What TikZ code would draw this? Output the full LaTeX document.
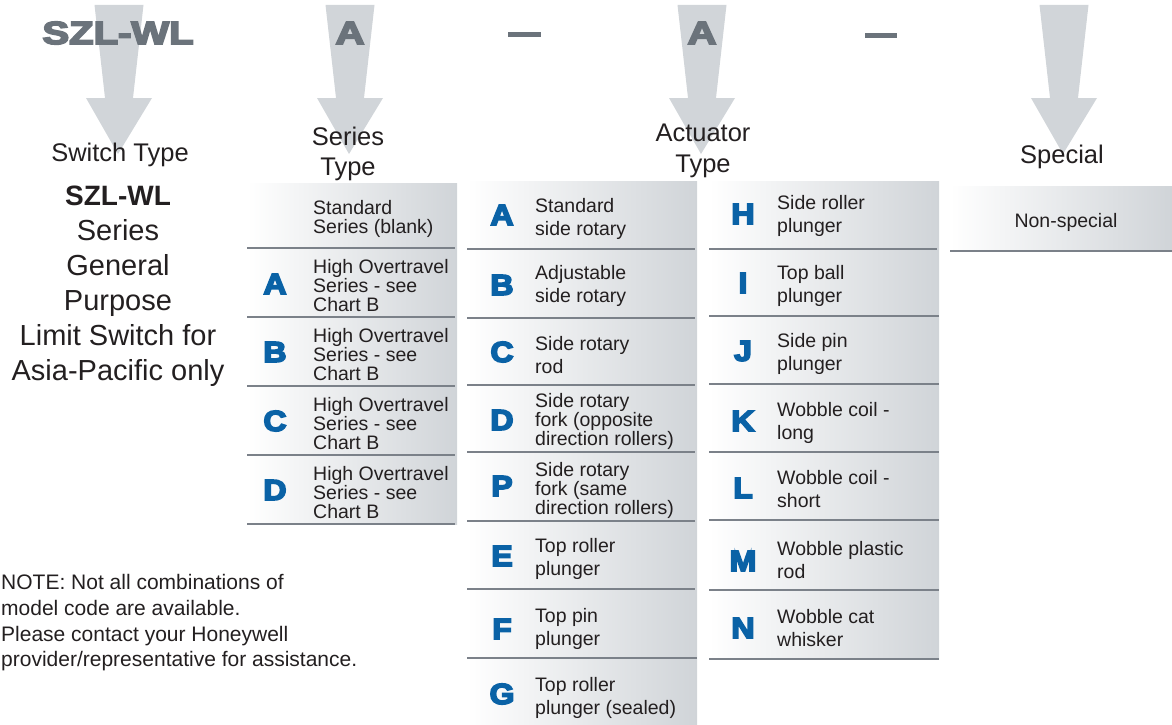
\documentclass[tikz,border=0pt]{standalone}
\usepackage{fontspec}
\setmainfont{Liberation Sans}
\newfontfamily\heavyfont{Liberation Sans Bold}
\usetikzlibrary{positioning}
\definecolor{arrowgrey}{HTML}{D1D5D9}
\definecolor{codegrey}{HTML}{6B737B}
\definecolor{codeblue}{HTML}{0A62A6}
\definecolor{rulegrey}{HTML}{7B8189}
\definecolor{shadegrey}{HTML}{D0D4D8}
\definecolor{inkblack}{HTML}{231F20}
% stroked glyphs for the black weight
\newcommand\heavy[1]{\special{pdf:literal direct 2 Tr 1.6 w}#1\special{pdf:literal direct 0 Tr}}
\tikzset{
  item/.style={anchor=west,align=left,inner sep=0pt,text=inkblack,font=\fontsize{19.5}{19}\selectfont},
  itemwide/.style={item,font=\fontsize{19.5}{22.5}\selectfont},
  letter/.style={inner sep=0pt,text=codeblue,xscale=1.1,font=\heavyfont\fontsize{29}{29}\selectfont},
  head/.style={align=center,inner sep=0pt,text=inkblack,font=\fontsize{25.5}{30.5}\selectfont},
  code/.style={inner sep=0pt,text=codegrey,xscale=1.25,font=\heavyfont\fontsize{32}{32}\selectfont},
  pointer/.style={fill=arrowgrey},
  rulebar/.style={draw=rulegrey,line width=2.5pt},
  panel/.style={left color=white,right color=shadegrey}
}
% big grey pointer under a code position
\newcommand\codearrow[1]{\fill[pointer] (#1-24.5,5)--(#1+24.5,5)--(#1+14,98)--(#1+33,98)--(#1-1,154)--(#1-33,98)--(#1-14,98)--cycle;}

\begin{document}
\begin{tikzpicture}[x=1pt,y=-1pt]
\useasboundingbox (0,0) rectangle (1172,725);
\codearrow{119}\codearrow{350}\codearrow{702}\codearrow{1064}
% code line
\node[code] (szl) at (118,33) {\heavy{SZL-WL}};
\node[code] (codeA) at (350,33) {\heavy{A}};
\fill[codegrey] (508,32) rectangle (541,37);
\node[code] (codeB) at (702,33) {\heavy{A}};
\fill[codegrey] (865,33) rectangle (897,38);
% headings
\node[head] (swtype) at (120,155) {Switch Type};
\node[head] (sertype) at (348,154) {Series\\Type};
\node[head] (acttype) at (703,151) {Actuator\\Type};
\node[head] (spec) at (1062,157) {Special};
\node[align=center,inner sep=0pt,text=inkblack,font=\fontsize{29}{35}\selectfont] (desc) at (118,286)
  {{\bfseries\fontsize{28}{35}\selectfont SZL-WL}\\Series\\General\\Purpose\\Limit Switch for\\Asia-Pacific only};
\node[item,font=\fontsize{21}{25.7}\selectfont] (note) at (1,623)
  {NOTE: Not all combinations of\\model code are available.\\Please contact your Honeywell\\provider/representative for assistance.};
% series type
\shade[panel] (247,183) rectangle (457,524);
\draw[rulebar] (247,248)--(455,248) (247,317)--(455,317) (247,386)--(455,386) (247,455)--(455,455) (247,524)--(455,524);
\node[item] (s0) at (313,219) {Standard\\Series (blank)};
\node[letter] (sA) at (275,284) {\heavy{A}};\node[item] (tA) at (313,286) {High Overtravel\\Series - see\\Chart B};
\node[letter] (sB) at (275,352) {\heavy{B}};\node[item] (tB) at (313,355) {High Overtravel\\Series - see\\Chart B};
\node[letter] (sC) at (275,421) {\heavy{C}};\node[item] (tC) at (313,424) {High Overtravel\\Series - see\\Chart B};
\node[letter] (sD) at (275,490) {\heavy{D}};\node[item] (tD) at (313,493) {High Overtravel\\Series - see\\Chart B};
% actuator type, left column
\shade[panel] (467,181) rectangle (697,727);
\draw[rulebar] (467,249)--(695,249) (467,318)--(695,318) (467,385)--(695,385) (467,452)--(695,452) (467,521)--(695,521) (467,589)--(695,589) (467,658)--(697,658);
\node[letter] (aA) at (502,215) {\heavy{A}};\node[itemwide] (uA) at (535,219) {Standard\\side rotary};
\node[letter] (aB) at (502,285) {\heavy{B}};\node[itemwide] (uB) at (535,286) {Adjustable\\side rotary};
\node[letter] (aC) at (502,352) {\heavy{C}};\node[itemwide] (uC) at (535,355) {Side rotary\\rod};
\node[letter] (aD) at (502,420) {\heavy{D}};\node[item] (uD) at (535,421) {Side rotary\\fork (opposite\\direction rollers)};
\node[letter] (aP) at (502,486) {\heavy{P}};\node[item] (uP) at (535,490) {Side rotary\\fork (same\\direction rollers)};
\node[letter] (aE) at (502,556) {\heavy{E}};\node[itemwide] (uE) at (535,559) {Top roller\\plunger};
\node[letter] (aF) at (502,629) {\heavy{F}};\node[itemwide] (uF) at (535,629) {Top pin\\plunger};
\node[letter] (aG) at (502,694) {\heavy{G}};\node[itemwide] (uG) at (535,698) {Top roller\\plunger (sealed)};
% actuator type, right column
\shade[panel] (709,181) rectangle (939,659);
\draw[rulebar] (709,249)--(937,249) (709,316)--(939,316) (709,384)--(939,384) (709,452)--(939,452) (709,520)--(939,520) (709,590)--(939,590) (709,659)--(939,659);
\node[letter] (aH) at (743,214) {\heavy{H}};\node[itemwide] (uH) at (777,216) {Side roller\\plunger};
\node[letter] (aI) at (743,283) {\heavy{I}};\node[itemwide] (uI) at (777,286) {Top ball\\plunger};
\node[letter] (aJ) at (743,351) {\heavy{J}};\node[itemwide] (uJ) at (777,354) {Side pin\\plunger};
\node[letter] (aK) at (743,421) {\heavy{K}};\node[itemwide] (uK) at (777,423) {Wobble coil -\\long};
\node[letter] (aL) at (743,488) {\heavy{L}};\node[itemwide] (uL) at (777,489) {Wobble coil -\\short};
\node[letter] (aM) at (743,561) {\heavy{M}};\node[itemwide] (uM) at (777,560) {Wobble plastic\\rod};
\node[letter] (aN) at (743,628) {\heavy{N}};\node[itemwide] (uN) at (777,628) {Wobble cat\\whisker};
% special
\shade[panel] (950,186) rectangle (1172,251);
\draw[rulebar] (950,251)--(1172,251);
\node[inner sep=0pt,text=inkblack,font=\fontsize{19.5}{19}\selectfont] (nonspec) at (1066,222) {Non-special};
\end{tikzpicture}
\end{document}
